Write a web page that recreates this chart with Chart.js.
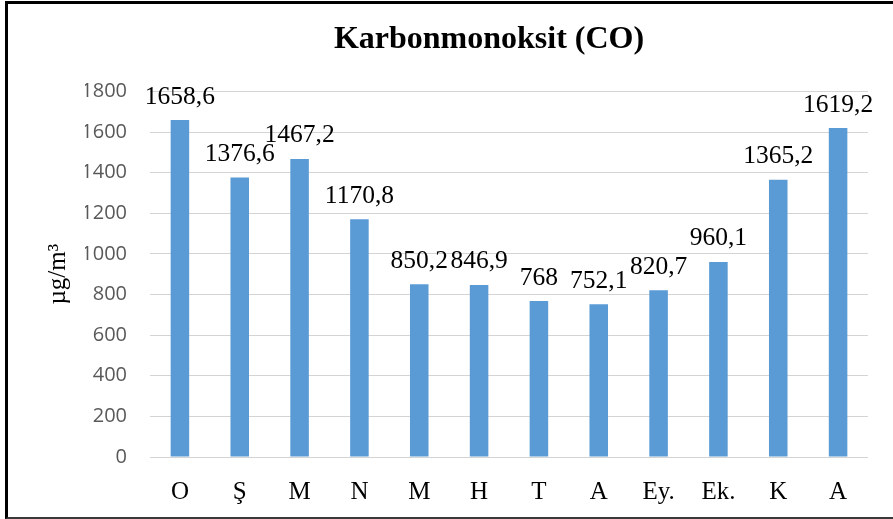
<!DOCTYPE html>
<html>
<head>
<meta charset="utf-8">
<script src="https://cdn.jsdelivr.net/npm/chart.js@4/dist/chart.umd.min.js"></script>
<style>
  html, body { margin: 0; padding: 0; background: #fff; }
  #wrap { position: relative; width: 893px; height: 519px; overflow: hidden; }
  #c { position: absolute; left: 0; top: 0; }
  #frame { position: absolute; left: 5px; top: 1px; width: 1000px; height: 518px; box-sizing: border-box;
           border-left: 3px solid #000; border-top: 3px solid #000; border-bottom: 2px solid #3a3a3a; pointer-events: none; }
  .pre { position: absolute; left: -9999px; }
</style>
</head>
<body>
<div id="wrap">
  <canvas id="c" width="893" height="519"></canvas>
  <div id="frame"></div>
</div>
<span class="pre" style="font-family:'Liberation Serif'">Ş 1</span>
<span class="pre" style="font-family:'Liberation Serif';font-weight:bold">K</span>
<span class="pre" style="font-family:'Open Sans'">1</span>
<script>
const categories = ['O', 'Ş', 'M', 'N', 'M', 'H', 'T', 'A', 'Ey.', 'Ek.', 'K', 'A'];
const coValues = [1658.6, 1376.6, 1467.2, 1170.8, 850.2, 846.9, 768, 752.1, 820.7, 960.1, 1365.2, 1619.2];
const yTicks = [0, 200, 400, 600, 800, 1000, 1200, 1400, 1600, 1800];
const chartTitle = 'Karbonmonoksit (CO)';
const yAxisTitle = 'µg/m³';

const SERIF = "'Liberation Serif', 'Times New Roman', Times, serif";

const valueLabels = {
  id: 'valueLabels',
  afterDatasetsDraw(chart) {
    const ctx = chart.ctx;
    const meta = chart.getDatasetMeta(0);
    ctx.save();
    ctx.font = "25.5px " + SERIF;
    ctx.fillStyle = '#000';
    ctx.textAlign = 'center';
    ctx.textBaseline = 'alphabetic';
    meta.data.forEach((el, i) => {
      const txt = String(coValues[i]).replace('.', ',');
      ctx.fillText(txt, el.x, el.y - 16.5);
    });
    ctx.restore();
  }
};

function build() {
  new Chart(document.getElementById('c'), {
    type: 'bar',
    data: {
      labels: categories,
      datasets: [{
        data: coValues,
        backgroundColor: '#5B9BD5',
        borderWidth: 0,
        categoryPercentage: 1,
        barPercentage: 0.31
      }]
    },
    options: {
      responsive: false,
      animation: false,
      devicePixelRatio: 1,
      layout: { padding: { left: 85, right: 0, top: 0, bottom: 0 } },
      plugins: {
        legend: { display: false },
        tooltip: { enabled: false },
        title: {
          display: true,
          text: chartTitle,
          color: '#000',
          font: { family: SERIF, size: 32, weight: 'bold', lineHeight: 1.2 },
          padding: { top: 21, bottom: 32 }
        }
      },
      scales: {
        x: {
          grid: { display: false, drawTicks: false },
          border: { display: false },
          ticks: {
            color: '#000',
            padding: 20,
            font: { family: SERIF, size: 25 }
          },
          afterFit(s) { s.height = 62; }
        },
        y: {
          position: 'left',
          min: 0,
          max: 1800,
          afterBuildTicks(s) { s.ticks = yTicks.map(v => ({ value: v })); },
          grid: { color: '#d4d4d4', lineWidth: 1, drawTicks: false },
          border: { display: false },
          ticks: {
            color: '#595959',
            padding: 23,
            font: { family: "'Open Sans', sans-serif", size: 20 },
            callback: v => String(v)
          },
          title: {
            display: true,
            text: yAxisTitle,
            color: '#000',
            font: { family: SERIF, size: 25, lineHeight: 1.2 },
            padding: { top: -42, bottom: 0 }
          },
          afterFit(s) { s.width = 65; }
        },
        y2: {
          position: 'right',
          display: true,
          grid: { display: false, drawTicks: false },
          border: { display: false },
          ticks: { display: false },
          afterFit(s) { s.width = 25; }
        }
      }
    },
    plugins: [valueLabels]
  });
}

Promise.all([
  document.fonts.load("25px 'Liberation Serif'"),
  document.fonts.load("bold 32px 'Liberation Serif'"),
  document.fonts.load("20px 'Open Sans'")
]).then(build, build);
</script>
</body>
</html>
